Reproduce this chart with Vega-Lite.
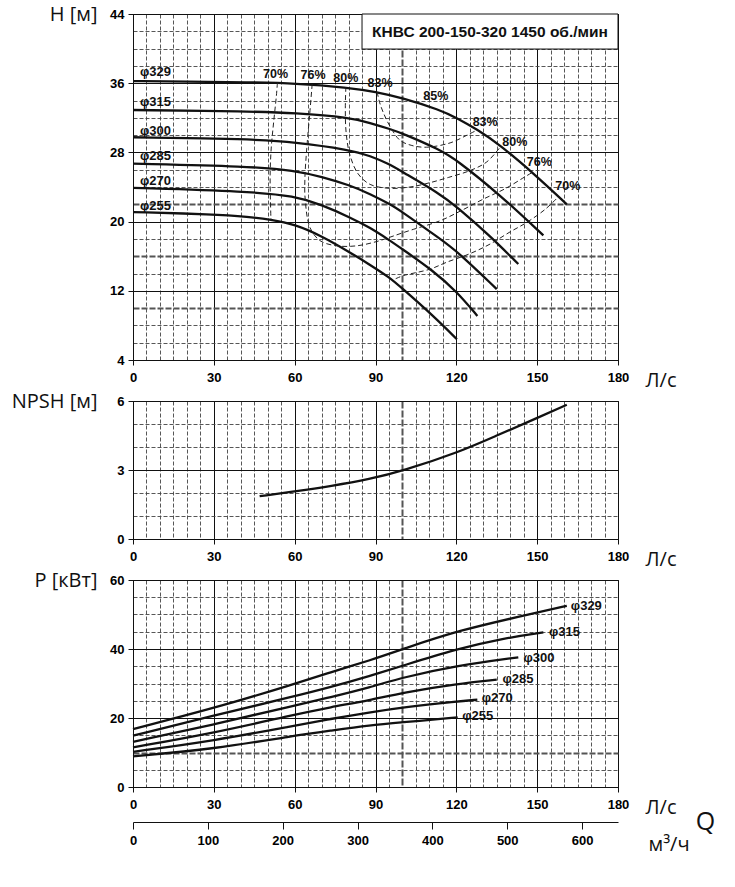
{
  "$schema": "https://vega.github.io/schema/vega-lite/v6.json",
  "padding": {"left": 10, "top": 3, "right": 5, "bottom": 5},
  "spacing": 41,
  "bounds": "flush",
  "datasets": {
    "head": [
      {"d": "329", "Q": 0, "H": 36.25}, {"d": "329", "Q": 20, "H": 36.2}, {"d": "329", "Q": 43, "H": 36.1}, {"d": "329", "Q": 60, "H": 36.0}, {"d": "329", "Q": 80, "H": 35.5}, {"d": "329", "Q": 90, "H": 35.0}, {"d": "329", "Q": 100, "H": 34.3}, {"d": "329", "Q": 114, "H": 32.9}, {"d": "329", "Q": 120, "H": 32.0}, {"d": "329", "Q": 128, "H": 30.6}, {"d": "329", "Q": 136, "H": 28.9}, {"d": "329", "Q": 148.6, "H": 25.6}, {"d": "329", "Q": 161, "H": 22.0},
      {"d": "315", "Q": 0, "H": 32.9}, {"d": "315", "Q": 43, "H": 32.75}, {"d": "315", "Q": 60, "H": 32.55}, {"d": "315", "Q": 80.5, "H": 32.05}, {"d": "315", "Q": 88, "H": 31.4}, {"d": "315", "Q": 95.4, "H": 30.7}, {"d": "315", "Q": 100, "H": 30.2}, {"d": "315", "Q": 114, "H": 28.3}, {"d": "315", "Q": 120.2, "H": 27.1}, {"d": "315", "Q": 136.2, "H": 23.1}, {"d": "315", "Q": 152.3, "H": 18.4},
      {"d": "300", "Q": 0, "H": 29.75}, {"d": "300", "Q": 43, "H": 29.55}, {"d": "300", "Q": 60, "H": 29.2}, {"d": "300", "Q": 80.5, "H": 28.3}, {"d": "300", "Q": 88, "H": 27.6}, {"d": "300", "Q": 95.4, "H": 26.6}, {"d": "300", "Q": 99.1, "H": 25.9}, {"d": "300", "Q": 114, "H": 23.2}, {"d": "300", "Q": 120.2, "H": 21.7}, {"d": "300", "Q": 132, "H": 18.5}, {"d": "300", "Q": 143, "H": 15.1},
      {"d": "285", "Q": 0, "H": 26.7}, {"d": "285", "Q": 43, "H": 26.4}, {"d": "285", "Q": 60, "H": 25.9}, {"d": "285", "Q": 70, "H": 25.2}, {"d": "285", "Q": 80.5, "H": 24.2}, {"d": "285", "Q": 88, "H": 23.2}, {"d": "285", "Q": 95.4, "H": 22.0}, {"d": "285", "Q": 99.1, "H": 21.3}, {"d": "285", "Q": 114, "H": 18.0}, {"d": "285", "Q": 120.2, "H": 16.6}, {"d": "285", "Q": 135, "H": 12.2},
      {"d": "270", "Q": 0, "H": 23.9}, {"d": "270", "Q": 43, "H": 23.5}, {"d": "270", "Q": 60, "H": 22.95}, {"d": "270", "Q": 70, "H": 21.95}, {"d": "270", "Q": 80.5, "H": 20.5}, {"d": "270", "Q": 88, "H": 19.3}, {"d": "270", "Q": 95.4, "H": 17.8}, {"d": "270", "Q": 99.1, "H": 17.0}, {"d": "270", "Q": 111.5, "H": 14.3}, {"d": "270", "Q": 120.2, "H": 11.9}, {"d": "270", "Q": 127.8, "H": 9.1},
      {"d": "255", "Q": 0, "H": 21.1}, {"d": "255", "Q": 30, "H": 20.85}, {"d": "255", "Q": 43, "H": 20.55}, {"d": "255", "Q": 51, "H": 20.25}, {"d": "255", "Q": 60, "H": 19.7}, {"d": "255", "Q": 70, "H": 18.35}, {"d": "255", "Q": 80.5, "H": 16.45}, {"d": "255", "Q": 88, "H": 15.0}, {"d": "255", "Q": 95.4, "H": 13.5}, {"d": "255", "Q": 99.1, "H": 12.5}, {"d": "255", "Q": 111.5, "H": 9.1}, {"d": "255", "Q": 120.2, "H": 6.4}
    ],
    "eff": [
      {"c": "70L", "i": 1, "Q": 53.6, "H": 36.05}, {"c": "70L", "i": 2, "Q": 53.2, "H": 34.5}, {"c": "70L", "i": 3, "Q": 52.2, "H": 31.5}, {"c": "70L", "i": 4, "Q": 51.3, "H": 28.5}, {"c": "70L", "i": 5, "Q": 50.9, "H": 25.5}, {"c": "70L", "i": 6, "Q": 51.0, "H": 22.5}, {"c": "70L", "i": 7, "Q": 51.2, "H": 20.25},
      {"c": "70R", "i": 1, "Q": 97.5, "H": 13.4}, {"c": "70R", "i": 2, "Q": 100.3, "H": 13.75}, {"c": "70R", "i": 3, "Q": 110.2, "H": 14.5}, {"c": "70R", "i": 4, "Q": 116.4, "H": 15.3}, {"c": "70R", "i": 5, "Q": 125.1, "H": 16.3}, {"c": "70R", "i": 6, "Q": 132.5, "H": 17.4}, {"c": "70R", "i": 7, "Q": 139.9, "H": 18.8}, {"c": "70R", "i": 8, "Q": 146.1, "H": 19.9}, {"c": "70R", "i": 9, "Q": 152.9, "H": 21.4}, {"c": "70R", "i": 10, "Q": 157.5, "H": 22.75},
      {"c": "76", "i": 1, "Q": 66.5, "H": 35.9}, {"c": "76", "i": 2, "Q": 65.6, "H": 32.5}, {"c": "76", "i": 3, "Q": 64.5, "H": 28.5}, {"c": "76", "i": 4, "Q": 63.8, "H": 25.0}, {"c": "76", "i": 5, "Q": 63.9, "H": 22.6}, {"c": "76", "i": 6, "Q": 65.7, "H": 19.3}, {"c": "76", "i": 7, "Q": 69.4, "H": 17.8}, {"c": "76", "i": 8, "Q": 75.6, "H": 17.2}, {"c": "76", "i": 9, "Q": 83, "H": 17.2}, {"c": "76", "i": 10, "Q": 90.5, "H": 17.7}, {"c": "76", "i": 11, "Q": 95.4, "H": 18.2}, {"c": "76", "i": 12, "Q": 99.1, "H": 18.6}, {"c": "76", "i": 13, "Q": 104, "H": 19.1}, {"c": "76", "i": 14, "Q": 114, "H": 20.1}, {"c": "76", "i": 15, "Q": 122, "H": 21.3}, {"c": "76", "i": 16, "Q": 130, "H": 22.6}, {"c": "76", "i": 17, "Q": 138.1, "H": 23.8}, {"c": "76", "i": 18, "Q": 146.1, "H": 25.3}, {"c": "76", "i": 19, "Q": 148.3, "H": 25.7},
      {"c": "80", "i": 1, "Q": 79, "H": 35.55}, {"c": "80", "i": 2, "Q": 78.8, "H": 33.0}, {"c": "80", "i": 3, "Q": 79.1, "H": 30.3}, {"c": "80", "i": 4, "Q": 80.5, "H": 27.7}, {"c": "80", "i": 5, "Q": 83.6, "H": 25.5}, {"c": "80", "i": 6, "Q": 88, "H": 24.3}, {"c": "80", "i": 7, "Q": 95, "H": 23.85}, {"c": "80", "i": 8, "Q": 102.8, "H": 24.0}, {"c": "80", "i": 9, "Q": 110.2, "H": 24.5}, {"c": "80", "i": 10, "Q": 117, "H": 25.1}, {"c": "80", "i": 11, "Q": 125.1, "H": 25.9}, {"c": "80", "i": 12, "Q": 131.3, "H": 26.9}, {"c": "80", "i": 13, "Q": 136.5, "H": 28.7},
      {"c": "83", "i": 1, "Q": 90.6, "H": 35.0}, {"c": "83", "i": 2, "Q": 91.5, "H": 33.8}, {"c": "83", "i": 3, "Q": 92.9, "H": 32.6}, {"c": "83", "i": 4, "Q": 95.4, "H": 31.0}, {"c": "83", "i": 5, "Q": 99.1, "H": 29.4}, {"c": "83", "i": 6, "Q": 103.5, "H": 28.8}, {"c": "83", "i": 7, "Q": 109, "H": 28.6}, {"c": "83", "i": 8, "Q": 117.7, "H": 29.1}, {"c": "83", "i": 9, "Q": 124, "H": 30.0}, {"c": "83", "i": 10, "Q": 127.8, "H": 30.6}
    ],
    "headLabels": [
      {"t": "φ329", "Q": 2.6, "H": 37.25}, {"t": "φ315", "Q": 2.6, "H": 33.8}, {"t": "φ300", "Q": 2.6, "H": 30.5}, {"t": "φ285", "Q": 2.6, "H": 27.55}, {"t": "φ270", "Q": 2.6, "H": 24.7}, {"t": "φ255", "Q": 2.6, "H": 21.8}
    ],
    "effLabels": [
      {"t": "70%", "Q": 52.9, "H": 37.05}, {"t": "76%", "Q": 66.8, "H": 37.0}, {"t": "80%", "Q": 79.0, "H": 36.6}, {"t": "83%", "Q": 91.7, "H": 36.0}, {"t": "85%", "Q": 112.4, "H": 34.55}, {"t": "83%", "Q": 130.7, "H": 31.5}, {"t": "80%", "Q": 141.7, "H": 29.2}, {"t": "76%", "Q": 150.8, "H": 26.85}, {"t": "70%", "Q": 161.4, "H": 24.15}
    ],
    "box": [
      {"Q": 85, "Q2": 180, "H": 39.95, "H2": 44}
    ],
    "boxTitle": [
      {"t": "КНВС 200-150-320 1450 об./мин", "Q": 132.5, "H": 41.95}
    ],
    "npsh": [
      {"Q": 47, "N": 1.86}, {"Q": 62, "N": 2.1}, {"Q": 73, "N": 2.29}, {"Q": 88, "N": 2.6}, {"Q": 100.3, "N": 2.97}, {"Q": 120.2, "N": 3.74}, {"Q": 135, "N": 4.5}, {"Q": 149.8, "N": 5.25}, {"Q": 161, "N": 5.84}
    ],
    "power": [
      {"d": "329", "Q": 0, "P": 16.8}, {"d": "329", "Q": 30, "P": 22.8}, {"d": "329", "Q": 60, "P": 29.9}, {"d": "329", "Q": 73.1, "P": 33.2}, {"d": "329", "Q": 88, "P": 36.7}, {"d": "329", "Q": 100.3, "P": 40.0}, {"d": "329", "Q": 120.2, "P": 45.3}, {"d": "329", "Q": 150.2, "P": 50.6}, {"d": "329", "Q": 161, "P": 52.5},
      {"d": "315", "Q": 0, "P": 14.9}, {"d": "315", "Q": 30, "P": 20.7}, {"d": "315", "Q": 60, "P": 26.3}, {"d": "315", "Q": 73.1, "P": 28.9}, {"d": "315", "Q": 88, "P": 32.2}, {"d": "315", "Q": 100.3, "P": 35.2}, {"d": "315", "Q": 120.2, "P": 40.0}, {"d": "315", "Q": 137.5, "P": 43.1}, {"d": "315", "Q": 152.3, "P": 44.8},
      {"d": "300", "Q": 0, "P": 13.1}, {"d": "300", "Q": 30, "P": 18.1}, {"d": "300", "Q": 60, "P": 23.6}, {"d": "300", "Q": 73.1, "P": 26.0}, {"d": "300", "Q": 88, "P": 28.9}, {"d": "300", "Q": 100.3, "P": 31.8}, {"d": "300", "Q": 120.2, "P": 35.2}, {"d": "300", "Q": 143, "P": 37.6},
      {"d": "285", "Q": 0, "P": 11.5}, {"d": "285", "Q": 30, "P": 15.65}, {"d": "285", "Q": 60, "P": 21.0}, {"d": "285", "Q": 73.1, "P": 23.1}, {"d": "285", "Q": 88, "P": 25.2}, {"d": "285", "Q": 100.3, "P": 27.4}, {"d": "285", "Q": 120.2, "P": 29.9}, {"d": "285", "Q": 135, "P": 31.1},
      {"d": "270", "Q": 0, "P": 10.2}, {"d": "270", "Q": 30, "P": 13.4}, {"d": "270", "Q": 60, "P": 17.8}, {"d": "270", "Q": 73.1, "P": 19.7}, {"d": "270", "Q": 88, "P": 21.65}, {"d": "270", "Q": 100.3, "P": 23.1}, {"d": "270", "Q": 120.2, "P": 24.8}, {"d": "270", "Q": 127.8, "P": 25.3},
      {"d": "255", "Q": 0, "P": 8.9}, {"d": "255", "Q": 30, "P": 11.0}, {"d": "255", "Q": 60, "P": 14.9}, {"d": "255", "Q": 73.1, "P": 16.3}, {"d": "255", "Q": 88, "P": 17.9}, {"d": "255", "Q": 100.3, "P": 18.75}, {"d": "255", "Q": 120.5, "P": 20.2}
    ],
    "powerLabels": [
      {"t": "φ329", "Q": 162.5, "P": 52.55}, {"t": "φ315", "Q": 154.4, "P": 44.8}, {"t": "φ300", "Q": 144.9, "P": 37.4}, {"t": "φ285", "Q": 137.1, "P": 31.3}, {"t": "φ270", "Q": 129.4, "P": 25.7}, {"t": "φ255", "Q": 122.2, "P": 20.7}
    ],
    "qLabel": [
      {"t": "Q", "m": 765, "P": -10.1}
    ]
  },
  "vconcat": [
    {
      "width": 485,
      "height": 346,
      "encoding": {
        "x": {
          "field": "Q", "type": "quantitative",
          "scale": {"domain": [0, 180], "nice": false},
          "axis": {
            "values": [0, 5, 10, 15, 20, 25, 30, 35, 40, 45, 50, 55, 60, 65, 70, 75, 80, 85, 90, 95, 100, 105, 110, 115, 120, 125, 130, 135, 140, 145, 150, 155, 160, 165, 170, 175, 180],
            "labelExpr": "datum.value % 30 === 0 ? datum.label : ''",
            "gridColor": {"condition": [{"test": "datum.value % 30 === 0", "value": "#111"}, {"test": "datum.value === 100", "value": "#555"}], "value": "#444"},
            "gridDash": {"condition": [{"test": "datum.value % 30 === 0", "value": []}, {"test": "datum.value === 100", "value": [7, 2]}], "value": [4, 2]},
            "gridWidth": {"condition": [{"test": "datum.value % 30 === 0", "value": 1}, {"test": "datum.value === 100", "value": 2}], "value": 0.9},
            "tickOpacity": {"condition": {"test": "datum.value % 30 === 0", "value": 1}, "value": 0},
            "title": "Л/с", "titleX": 512, "titleY": 20
          }
        },
        "y": {
          "field": "H", "type": "quantitative",
          "scale": {"domain": [4, 44], "nice": false, "zero": false},
          "axis": {
            "values": [4, 6, 8, 10, 12, 14, 16, 18, 20, 22, 24, 26, 28, 30, 32, 34, 36, 38, 40, 42, 44],
            "labelExpr": "(datum.value - 4) % 8 === 0 ? datum.label : ''",
            "gridColor": {"condition": [{"test": "(datum.value - 4) % 8 === 0", "value": "#111"}, {"test": "datum.value === 22 || datum.value === 16 || datum.value === 10", "value": "#555"}], "value": "#444"},
            "gridDash": {"condition": [{"test": "(datum.value - 4) % 8 === 0", "value": []}, {"test": "datum.value === 22 || datum.value === 16 || datum.value === 10", "value": [6, 2]}], "value": [4, 2]},
            "gridWidth": {"condition": [{"test": "(datum.value - 4) % 8 === 0", "value": 1}, {"test": "datum.value === 22 || datum.value === 16 || datum.value === 10", "value": 2}], "value": 0.9},
            "tickOpacity": {"condition": {"test": "(datum.value - 4) % 8 === 0", "value": 1}, "value": 0},
            "title": "H [м]", "titleX": -36, "titleY": 0
          }
        }
      },
      "layer": [
        {
          "data": {"name": "head"},
          "mark": {"type": "line", "interpolate": "basis", "stroke": "#111", "strokeWidth": 2.3},
          "encoding": {"detail": {"field": "d"}}
        },
        {
          "data": {"name": "eff"},
          "mark": {"type": "line", "interpolate": "catmull-rom", "stroke": "#222", "strokeWidth": 1, "strokeDash": [5, 3]},
          "encoding": {"detail": {"field": "c"}, "order": {"field": "i"}}
        },
        {
          "data": {"name": "box"},
          "mark": {"type": "rect", "fill": "white", "stroke": "#111", "strokeWidth": 1},
          "encoding": {"x2": {"field": "Q2"}, "y2": {"field": "H2"}}
        },
        {
          "data": {"name": "boxTitle"},
          "mark": {"type": "text", "fontSize": 15.5, "fontWeight": "bold", "align": "center", "baseline": "middle", "color": "#111"},
          "encoding": {"text": {"field": "t"}}
        },
        {
          "data": {"name": "headLabels"},
          "mark": {"type": "text", "fontSize": 13, "fontWeight": "bold", "align": "left", "baseline": "middle", "color": "#111"},
          "encoding": {"text": {"field": "t"}}
        },
        {
          "data": {"name": "effLabels"},
          "mark": {"type": "text", "fontSize": 12.5, "fontWeight": "bold", "align": "center", "baseline": "middle", "color": "#111"},
          "encoding": {"text": {"field": "t"}}
        }
      ]
    },
    {
      "width": 485,
      "height": 138,
      "data": {"name": "npsh"},
      "mark": {"type": "line", "interpolate": "basis", "stroke": "#111", "strokeWidth": 2.3},
      "encoding": {
        "x": {
          "field": "Q", "type": "quantitative",
          "scale": {"domain": [0, 180], "nice": false},
          "axis": {
            "values": [0, 5, 10, 15, 20, 25, 30, 35, 40, 45, 50, 55, 60, 65, 70, 75, 80, 85, 90, 95, 100, 105, 110, 115, 120, 125, 130, 135, 140, 145, 150, 155, 160, 165, 170, 175, 180],
            "labelExpr": "datum.value % 30 === 0 ? datum.label : ''",
            "gridColor": {"condition": [{"test": "datum.value % 30 === 0", "value": "#111"}, {"test": "datum.value === 100", "value": "#555"}], "value": "#444"},
            "gridDash": {"condition": [{"test": "datum.value % 30 === 0", "value": []}, {"test": "datum.value === 100", "value": [7, 2]}], "value": [4, 2]},
            "gridWidth": {"condition": [{"test": "datum.value % 30 === 0", "value": 1}, {"test": "datum.value === 100", "value": 2}], "value": 0.9},
            "tickOpacity": {"condition": {"test": "datum.value % 30 === 0", "value": 1}, "value": 0},
            "title": "Л/с", "titleX": 512, "titleY": 20
          }
        },
        "y": {
          "field": "N", "type": "quantitative",
          "scale": {"domain": [0, 6], "nice": false},
          "axis": {
            "values": [0, 1, 2, 3, 4, 5, 6],
            "labelExpr": "datum.value % 3 === 0 ? datum.label : ''",
            "gridColor": {"condition": {"test": "datum.value % 3 === 0", "value": "#111"}, "value": "#444"},
            "gridDash": {"condition": {"test": "datum.value % 3 === 0", "value": []}, "value": [4, 2]},
            "gridWidth": {"condition": {"test": "datum.value % 3 === 0", "value": 1}, "value": 0.9},
            "tickOpacity": {"condition": {"test": "datum.value % 3 === 0", "value": 1}, "value": 0},
            "title": "NPSH [м]", "titleX": -36, "titleY": 0
          }
        }
      }
    },
    {
      "width": 485,
      "height": 207,
      "resolve": {"scale": {"x": "independent", "y": "independent"}},
      "layer": [
        {
          "encoding": {
            "x": {
              "field": "Q", "type": "quantitative",
              "scale": {"domain": [0, 180], "nice": false},
              "axis": {
                "values": [0, 5, 10, 15, 20, 25, 30, 35, 40, 45, 50, 55, 60, 65, 70, 75, 80, 85, 90, 95, 100, 105, 110, 115, 120, 125, 130, 135, 140, 145, 150, 155, 160, 165, 170, 175, 180],
                "labelExpr": "datum.value % 30 === 0 ? datum.label : ''",
                "gridColor": {"condition": [{"test": "datum.value % 30 === 0", "value": "#111"}, {"test": "datum.value === 100", "value": "#555"}], "value": "#444"},
                "gridDash": {"condition": [{"test": "datum.value % 30 === 0", "value": []}, {"test": "datum.value === 100", "value": [7, 2]}], "value": [4, 2]},
                "gridWidth": {"condition": [{"test": "datum.value % 30 === 0", "value": 1}, {"test": "datum.value === 100", "value": 2}], "value": 0.9},
                "tickOpacity": {"condition": {"test": "datum.value % 30 === 0", "value": 1}, "value": 0},
                "title": "Л/с", "titleX": 512, "titleY": 20
              }
            },
            "y": {
              "field": "P", "type": "quantitative",
              "scale": {"domain": [0, 60], "nice": false},
              "axis": {
                "values": [0, 5, 10, 15, 20, 25, 30, 35, 40, 45, 50, 55, 60],
                "labelExpr": "datum.value % 20 === 0 ? datum.label : ''",
                "gridColor": {"condition": [{"test": "datum.value % 20 === 0", "value": "#111"}, {"test": "datum.value === 10", "value": "#555"}], "value": "#444"},
                "gridDash": {"condition": [{"test": "datum.value % 20 === 0", "value": []}, {"test": "datum.value === 10", "value": [6, 2]}], "value": [4, 2]},
                "gridWidth": {"condition": [{"test": "datum.value % 20 === 0", "value": 1}, {"test": "datum.value === 10", "value": 2}], "value": 0.9},
                "tickOpacity": {"condition": {"test": "datum.value % 20 === 0", "value": 1}, "value": 0},
                "title": "P [кВт]", "titleX": -36, "titleY": 0
              }
            }
          },
          "layer": [
            {
              "data": {"name": "power"},
              "mark": {"type": "line", "interpolate": "basis", "stroke": "#111", "strokeWidth": 2.3},
              "encoding": {"detail": {"field": "d"}}
            },
            {
              "data": {"name": "powerLabels"},
              "mark": {"type": "text", "fontSize": 13, "fontWeight": "bold", "align": "left", "baseline": "middle", "color": "#111"},
              "encoding": {"text": {"field": "t"}}
            }
          ]
        },
        {
          "data": {"name": "qLabel"},
          "mark": {"type": "text", "font": "Open Sans", "fontSize": 25, "align": "center", "baseline": "middle", "color": "#111"},
          "encoding": {
            "x": {
              "field": "m", "type": "quantitative",
              "scale": {"domain": [0, 648], "nice": false},
              "axis": {
                "orient": "bottom", "offset": 35, "grid": false,
                "values": [0, 100, 200, 300, 400, 500, 600],
                "tickSize": 7, "labelPadding": 5,
                "title": "м³/ч", "titleX": 515, "titleY": 22
              }
            },
            "y": {"field": "P", "type": "quantitative", "scale": {"domain": [0, 60], "nice": false}, "axis": null},
            "text": {"field": "t"}
          }
        }
      ]
    }
  ],
  "config": {
    "view": {"stroke": "#111", "strokeWidth": 1},
    "text": {"font": "Liberation Sans"},
    "axis": {
      "grid": true,
      "labelFont": "Liberation Sans",
      "labelFontWeight": "bold",
      "labelFontSize": 13,
      "labelColor": "#000",
      "labelOverlap": false,
      "labelFlush": false,
      "labelBound": false,
      "domainColor": "#111",
      "tickColor": "#111",
      "tickSize": 5,
      "titleFont": "Open Sans",
      "titleFontWeight": "normal",
      "titleFontSize": 20,
      "titleColor": "#111",
      "titleAngle": 0,
      "titleBaseline": "middle"
    },
    "axisX": {"labelPadding": 6, "titleAlign": "left"},
    "axisY": {"labelPadding": 4, "titleAlign": "right"}
  }
}
